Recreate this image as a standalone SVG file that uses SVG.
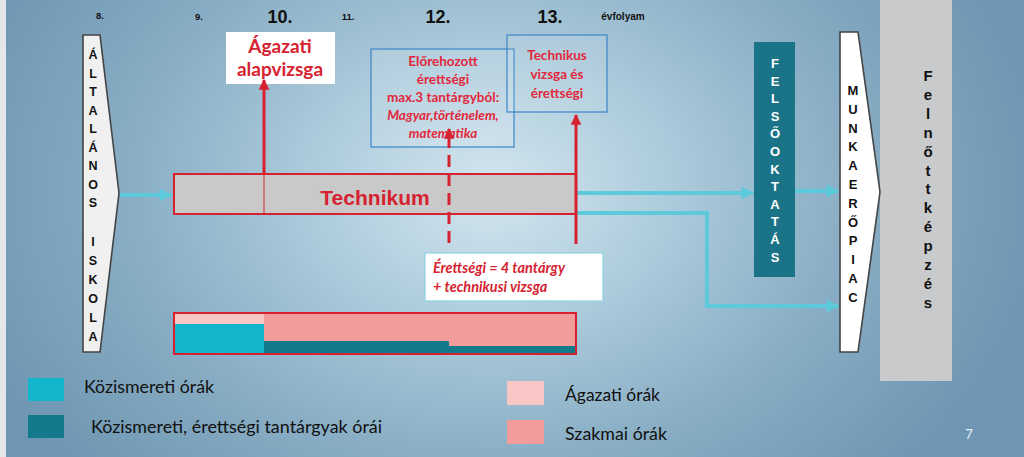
<svg xmlns="http://www.w3.org/2000/svg" width="1024" height="457" viewBox="0 0 1024 457">
<defs>
<radialGradient id="bg" gradientUnits="userSpaceOnUse" cx="490" cy="190" r="560" gradientTransform="translate(490 190) scale(1 0.75) translate(-490 -190)">
<stop offset="0" stop-color="#d4e6ef"/>
<stop offset="0.3" stop-color="#afcddd"/>
<stop offset="0.65" stop-color="#88adc4"/>
<stop offset="1" stop-color="#6e96b2"/>
</radialGradient>
<marker id="cy" viewBox="0 0 10 10" refX="9" refY="5" markerWidth="3.2" markerHeight="3.2" orient="auto" markerUnits="strokeWidth">
<path d="M0,0 L10,5 L0,10 Z" fill="#5ccadb"/>
</marker>
<marker id="rd" viewBox="0 0 10 10" refX="9" refY="5" markerWidth="3.6" markerHeight="3.6" orient="auto" markerUnits="strokeWidth">
<path d="M0,0 L10,5 L0,10 Z" fill="#d62230"/>
</marker>
</defs>
<style>
.num{font-family:"Liberation Sans",Arial,sans-serif;font-weight:bold;fill:#111;text-anchor:middle}
.lbl{font-family:Lato,"Liberation Sans",sans-serif;font-weight:bold;fill:#d62230;text-anchor:middle}
.lbl2{font-family:Lato,"Liberation Sans",sans-serif;font-weight:bold;fill:#e2283c;text-anchor:middle}
.vt{font-family:"Liberation Sans",Arial,sans-serif;font-weight:bold;text-anchor:middle}
.leg{font-family:Lato,"Liberation Sans",sans-serif;fill:#111;font-size:16.5px}
.cyl{stroke:#5ccadb;stroke-width:4;fill:none}
.rdl{stroke:#d62230;stroke-width:3;fill:none}
</style>
<rect x="0" y="0" width="1024" height="457" fill="url(#bg)"/>
<rect x="0" y="0" width="6" height="457" fill="#e4e6ea"/>

<g id="years">
<text class="num" x="100" y="19" font-size="9.5">8.</text>
<text class="num" x="199" y="20" font-size="9.5">9.</text>
<text class="num" x="280" y="23" font-size="18">10.</text>
<text class="num" x="348" y="20" font-size="9.5">11.</text>
<text class="num" x="438" y="23" font-size="18">12.</text>
<text class="num" x="550" y="23" font-size="18">13.</text>
<text class="num" x="623" y="20" font-size="10">évfolyam</text>
</g>

<g id="felnottkepzes">
<rect x="880" y="0" width="72" height="381" fill="#c8cacb"/>
<text class="vt" x="928" font-size="15" fill="#111"><tspan x="928" y="81">F</tspan><tspan x="928" dy="18.9">e</tspan><tspan x="928" dy="18.9">l</tspan><tspan x="928" dy="18.9">n</tspan><tspan x="928" dy="18.9">ő</tspan><tspan x="928" dy="18.9">t</tspan><tspan x="928" dy="18.9">t</tspan><tspan x="928" dy="18.9">k</tspan><tspan x="928" dy="18.9">é</tspan><tspan x="928" dy="18.9">p</tspan><tspan x="928" dy="18.9">z</tspan><tspan x="928" dy="18.9">é</tspan><tspan x="928" dy="18.9">s</tspan></text>
</g>

<g id="altalanos-iskola">
<polygon points="83,35 100,35 119,193 100,352 83,352" fill="#f0f0f0" stroke="#444" stroke-width="1.6"/>
<text class="vt" font-size="12.5" fill="#111"><tspan x="93" y="59">Á</tspan><tspan x="93" dy="18.5">L</tspan><tspan x="93" dy="18.5">T</tspan><tspan x="93" dy="18.5">A</tspan><tspan x="93" dy="18.5">L</tspan><tspan x="93" dy="18.5">Á</tspan><tspan x="93" dy="18.5">N</tspan><tspan x="93" dy="18.5">O</tspan><tspan x="93" dy="18.5">S</tspan><tspan x="93" y="246">I</tspan><tspan x="93" dy="19">S</tspan><tspan x="93" dy="19">K</tspan><tspan x="93" dy="19">O</tspan><tspan x="93" dy="19">L</tspan><tspan x="93" dy="19">A</tspan></text>
</g>

<g id="munkaeropiac">
<polygon points="840,32 858,32 880,192 858,352 840,352" fill="#ffffff" stroke="#444" stroke-width="1.6"/>
<text class="vt" font-size="13" fill="#111"><tspan x="853" y="95">M</tspan><tspan x="853" dy="18.8">U</tspan><tspan x="853" dy="18.8">N</tspan><tspan x="853" dy="18.8">K</tspan><tspan x="853" dy="18.8">A</tspan><tspan x="853" dy="18.8">E</tspan><tspan x="853" dy="18.8">R</tspan><tspan x="853" dy="18.8">Ő</tspan><tspan x="853" dy="18.8">P</tspan><tspan x="853" dy="18.8">I</tspan><tspan x="853" dy="18.8">A</tspan><tspan x="853" dy="18.8">C</tspan></text>
</g>

<g id="felsooktatas">
<rect x="754" y="42" width="41" height="235" fill="#1a7386"/>
<text class="vt" font-size="13" fill="#ffffff"><tspan x="775" y="68">F</tspan><tspan x="775" dy="17.6">E</tspan><tspan x="775" dy="17.6">L</tspan><tspan x="775" dy="17.6">S</tspan><tspan x="775" dy="17.6">Ő</tspan><tspan x="775" dy="17.6">O</tspan><tspan x="775" dy="17.6">K</tspan><tspan x="775" dy="17.6">T</tspan><tspan x="775" dy="17.6">A</tspan><tspan x="775" dy="17.6">T</tspan><tspan x="775" dy="17.6">Á</tspan><tspan x="775" dy="17.6">S</tspan></text>
</g>

<g id="technikum">
<rect x="174" y="174" width="402" height="40" fill="#c9c9c9" stroke="#d62230" stroke-width="2"/>
<line x1="264" y1="174" x2="264" y2="214" stroke="#d62230" stroke-width="1"/>
<text x="375" y="205" font-family="'Liberation Sans',Arial,sans-serif" font-weight="bold" font-size="21" fill="#d62230" text-anchor="middle">Technikum</text>
</g>

<g id="oraszam-bar">
<rect x="174" y="313" width="90" height="11" fill="#f9c6c6"/>
<rect x="174" y="324" width="90" height="30" fill="#12b5cc"/>
<rect x="264" y="313" width="312" height="41" fill="#f29c9c"/>
<rect x="264" y="341" width="185" height="13" fill="#127a8a"/>
<rect x="449" y="346" width="127" height="8" fill="#127a8a"/>
<rect x="174" y="313" width="402" height="41" fill="none" stroke="#d62230" stroke-width="2"/>
</g>

<g id="agazati-alapvizsga">
<rect x="226" y="32" width="109" height="52" fill="#ffffff"/>
<text class="lbl" x="280" y="53" font-size="19">Ágazati</text>
<text class="lbl" x="280" y="76" font-size="19">alapvizsga</text>
</g>

<g id="elorehozott">
<rect x="371" y="49" width="143" height="98" fill="#ffffff" fill-opacity="0.12" stroke="#3a86c8" stroke-width="1.2"/>
<text class="lbl2" x="443" y="66" font-size="13.5">Előrehozott</text>
<text class="lbl2" x="443" y="84" font-size="13.5">érettségi</text>
<text class="lbl2" x="443" y="102" font-size="13.5">max.3 tantárgyból:</text>
<text class="lbl2" x="443" y="120" font-size="13.5" font-style="italic">Magyar,történelem,</text>
<text class="lbl2" x="443" y="138" font-size="13.5" font-style="italic">matematika</text>
</g>

<g id="technikus-vizsga">
<rect x="507" y="35" width="100" height="77" fill="#ffffff" fill-opacity="0.1" stroke="#3a86c8" stroke-width="1.2"/>
<text class="lbl2" x="557" y="60" font-size="13.5">Technikus</text>
<text class="lbl2" x="557" y="79" font-size="13.5">vizsga és</text>
<text class="lbl2" x="557" y="98" font-size="13.5">érettségi</text>
</g>

<g id="erettsegi-4">
<rect x="425" y="253" width="178" height="48" fill="#ffffff" stroke="#8fd3df" stroke-width="1.2"/>
<text x="433" y="273" font-family="Lato,'Liberation Sans',sans-serif" font-weight="bold" font-style="italic" font-size="14.5" fill="#d62230">Érettségi = 4 tantárgy</text>
<text x="433" y="292" font-family="Lato,'Liberation Sans',sans-serif" font-weight="bold" font-style="italic" font-size="14.5" fill="#d62230">+ technikusi vizsga</text>
</g>

<g id="connectors">
<line class="cyl" x1="120" y1="195" x2="171" y2="195" marker-end="url(#cy)"/>
<line class="cyl" x1="577" y1="193" x2="753" y2="193" marker-end="url(#cy)"/>
<line class="cyl" x1="795" y1="191" x2="838" y2="191" marker-end="url(#cy)"/>
<polyline class="cyl" points="577,213 707,213 707,306 838,306" marker-end="url(#cy)"/>
<line class="rdl" x1="264" y1="174" x2="264" y2="80" marker-end="url(#rd)"/>
<line class="rdl" x1="576" y1="244" x2="576" y2="115" marker-end="url(#rd)"/>
<line class="rdl" x1="449" y1="243" x2="449" y2="140" stroke-dasharray="12 7"/>
<line class="rdl" x1="449" y1="140" x2="449" y2="129" marker-end="url(#rd)"/>
</g>

<g id="legend">
<rect x="28" y="378" width="36" height="23" fill="#12b5cc"/>
<rect x="28" y="415" width="36" height="23" fill="#127a8a"/>
<rect x="507" y="381" width="37" height="24" fill="#f9c6c6"/>
<rect x="507" y="420" width="37" height="24" fill="#f29c9c"/>
<text class="leg" x="84" y="393" textLength="130" lengthAdjust="spacingAndGlyphs">Közismereti órák</text>
<text class="leg" x="91" y="433" textLength="291" lengthAdjust="spacingAndGlyphs">Közismereti, érettségi tantárgyak órái</text>
<text class="leg" x="565" y="401" textLength="95" lengthAdjust="spacingAndGlyphs">Ágazati órák</text>
<text class="leg" x="565" y="440" textLength="102" lengthAdjust="spacingAndGlyphs">Szakmai órák</text>
<text x="969" y="439" font-family="Lato,'Liberation Sans',sans-serif" font-size="13" fill="#e6eef4" text-anchor="middle">7</text>
</g>
</svg>
